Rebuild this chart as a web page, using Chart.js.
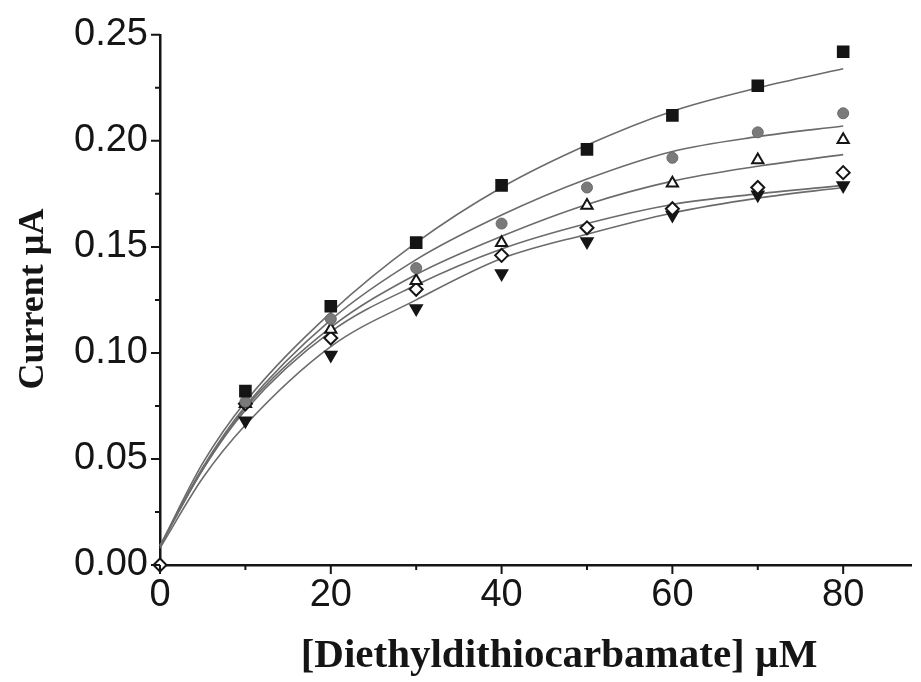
<!DOCTYPE html>
<html>
<head>
<meta charset="utf-8">
<script src="https://cdn.jsdelivr.net/npm/chart.js@4"></script>
<style>
  html, body { margin: 0; padding: 0; background: #fff; }
  #wrap { width: 921px; height: 682px; }
</style>
</head>
<body>
<div id="wrap"><canvas id="c"></canvas></div>
<script>
'use strict';

/* datos */
const xVals = [10, 20, 30, 40, 50, 60, 70, 80];
const sqY = [0.082, 0.122, 0.152, 0.179, 0.196, 0.212, 0.226, 0.242];
const ciY = [0.077, 0.116, 0.140, 0.161, 0.178, 0.192, 0.204, 0.213];
const upY = [0.076, 0.111, 0.134, 0.152, 0.1695, 0.180, 0.191, 0.2005];
const diX = [0, 10, 20, 30, 40, 50, 60, 70, 80];
const diY = [0, 0.076, 0.107, 0.130, 0.146, 0.159, 0.168, 0.178, 0.185];
const dnY = [0.068, 0.099, 0.121, 0.1375, 0.1525, 0.165, 0.1746, 0.179];

/* curvas ajustadas (leídas) */
const fitX = [0, 5, 10, 20, 30, 40, 50, 60, 70, 80];
const fitSq = [0.009, 0.048, 0.077, 0.119, 0.152, 0.178, 0.198, 0.214, 0.225, 0.234];
const fitCi = [0.009, 0.046, 0.075, 0.1156, 0.144, 0.165, 0.182, 0.195, 0.202, 0.207];
const fitUp = [0.009, 0.045, 0.074, 0.112, 0.137, 0.155, 0.170, 0.181, 0.188, 0.1935];
const fitDi = [0.009, 0.045, 0.073, 0.110, 0.132, 0.149, 0.161, 0.170, 0.175, 0.179];
const fitDn = [0.008, 0.041, 0.066, 0.103, 0.125, 0.1445, 0.156, 0.166, 0.173, 0.178];

/* ejes */
const xTicks = [0, 20, 40, 60, 80];
const xMinor = [10, 30, 50, 70];
const yTicks = [0, 0.05, 0.10, 0.15, 0.20, 0.25];
const yMinor = [0.025, 0.075, 0.125, 0.175, 0.225];
const xTitle = '[Diethyldithiocarbamate] \u00b5M';
const yTitle = 'Current \u00b5A';

const pts = (xs, ys) => ys.map((y, i) => ({ x: xs[i], y }));
const INK = '#151515';
const LINE = '#6b6b6b';

const marker = (data, style, fill, r, extra = {}) => ({
  data, showLine: false, pointStyle: style, pointRadius: r, pointHoverRadius: r,
  backgroundColor: fill, borderColor: INK, borderWidth: 2, order: 0, clip: false, ...extra,
});
const fit = data => ({
  data, showLine: true, pointRadius: 0, borderColor: LINE, borderWidth: 1.6,
  cubicInterpolationMode: 'monotone', order: 1, clip: false,
});

/* marcas de los ejes y títulos */
const axisDeco = {
  id: 'axisDeco',
  afterDraw(chart) {
    const { ctx, chartArea: a, scales: { x, y } } = chart;
    ctx.save();
    ctx.strokeStyle = INK;
    ctx.lineWidth = 2;
    ctx.beginPath();
    xTicks.forEach(v => { const p = x.getPixelForValue(v); ctx.moveTo(p, a.bottom); ctx.lineTo(p, a.bottom + 9); });
    xMinor.forEach(v => { const p = x.getPixelForValue(v); ctx.moveTo(p, a.bottom); ctx.lineTo(p, a.bottom + 5); });
    yTicks.forEach(v => { const p = y.getPixelForValue(v); ctx.moveTo(a.left, p); ctx.lineTo(a.left - 9, p); });
    yMinor.forEach(v => { const p = y.getPixelForValue(v); ctx.moveTo(a.left, p); ctx.lineTo(a.left - 5, p); });
    ctx.stroke();

    ctx.fillStyle = INK;
    ctx.font = 'bold 41px "Liberation Serif", "Times New Roman", serif';
    ctx.textAlign = 'center';
    ctx.textBaseline = 'alphabetic';
    ctx.fillText(xTitle, 559, 667);
    ctx.translate(43, 299);
    ctx.rotate(-Math.PI / 2);
    ctx.font = 'bold 36px "Liberation Serif", "Times New Roman", serif';
    ctx.fillText(yTitle, 0, 0);
    ctx.restore();
  },
};

const tickFont = { family: '"Liberation Sans", Arial, sans-serif', size: 38 };

new Chart(document.getElementById('c'), {
  type: 'scatter',
  data: {
    datasets: [
      marker(pts(xVals, sqY), 'rect', INK, 7.5),
      marker(pts(xVals, ciY), 'circle', '#7a7a7a', 5.5, { borderColor: '#6a6a6a', borderWidth: 1 }),
      marker(pts(xVals, upY), 'triangle', '#fff', 6.5),
      marker(pts(diX, diY), 'rectRot', '#fff', 6.5),
      marker(pts(xVals, dnY), 'triangle', INK, 6.5, { rotation: 180 }),
      fit(pts(fitX, fitSq)),
      fit(pts(fitX, fitCi)),
      fit(pts(fitX, fitUp)),
      fit(pts(fitX, fitDi)),
      fit(pts(fitX, fitDn)),
    ],
  },
  options: {
    responsive: true, maintainAspectRatio: false, animation: false,
    layout: { padding: { top: 31, right: 1, left: 0, bottom: 0 } },
    plugins: { legend: { display: false }, tooltip: { enabled: false } },
    scales: {
      x: {
        type: 'linear', min: 0, max: 88,
        afterBuildTicks: s => { s.ticks = xTicks.map(v => ({ value: v })); },
        afterFit: s => { s.height = 117; },
        grid: { display: false, drawTicks: false },
        border: { display: true, color: INK, width: 2.5 },
        ticks: { color: INK, font: tickFont, padding: 8, maxRotation: 0 },
      },
      y: {
        type: 'linear', min: 0, max: 0.25,
        afterBuildTicks: s => { s.ticks = yTicks.map(v => ({ value: v })); },
        afterFit: s => { s.width = 160; },
        grid: { display: false, drawTicks: false },
        border: { display: true, color: INK, width: 2.5 },
        ticks: { color: INK, font: tickFont, padding: 12, callback: v => v.toFixed(2) },
      },
    },
  },
  plugins: [axisDeco],
});
</script>
</body>
</html>
